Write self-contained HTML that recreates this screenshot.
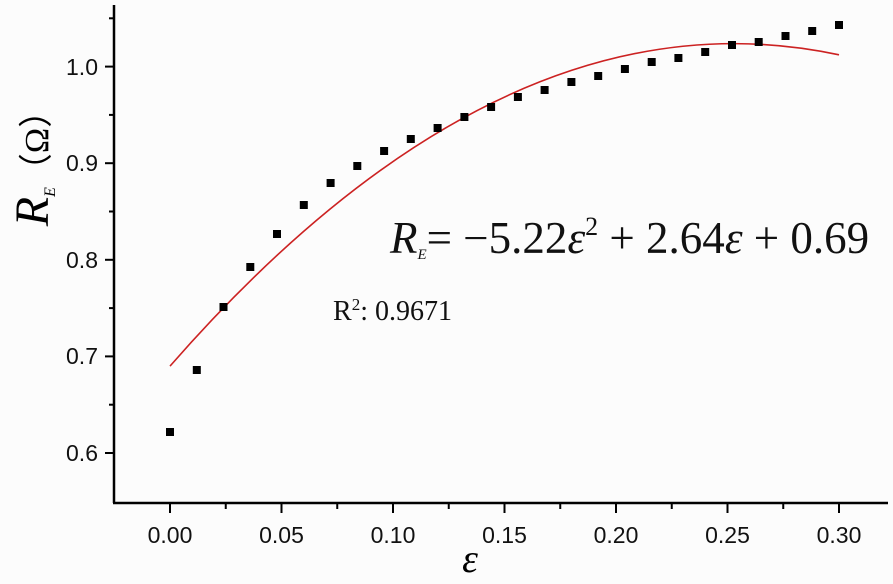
<!DOCTYPE html>
<html><head><meta charset="utf-8"><style>
html,body{margin:0;padding:0;background:#fcfcfc;}
svg{display:block;}
</style></head><body>
<svg width="893" height="584" viewBox="0 0 893 584" xmlns="http://www.w3.org/2000/svg">
<rect width="893" height="584" fill="#fcfcfc"/>
<g stroke="#000" stroke-width="2.5" fill="none">
<line x1="114" y1="5" x2="114" y2="503"/>
<line x1="113" y1="503" x2="888" y2="503"/>
</g>
<g stroke="#000" stroke-width="2">
<line x1="105" y1="66.6" x2="114" y2="66.6"/>
<line x1="105" y1="163.2" x2="114" y2="163.2"/>
<line x1="105" y1="259.8" x2="114" y2="259.8"/>
<line x1="105" y1="356.4" x2="114" y2="356.4"/>
<line x1="105" y1="453" x2="114" y2="453"/>
<line x1="109" y1="18.3" x2="114" y2="18.3"/>
<line x1="109" y1="114.9" x2="114" y2="114.9"/>
<line x1="109" y1="211.5" x2="114" y2="211.5"/>
<line x1="109" y1="308.1" x2="114" y2="308.1"/>
<line x1="109" y1="404.7" x2="114" y2="404.7"/>
<line x1="170" y1="503" x2="170" y2="513"/>
<line x1="281.5" y1="503" x2="281.5" y2="513"/>
<line x1="393" y1="503" x2="393" y2="513"/>
<line x1="504.5" y1="503" x2="504.5" y2="513"/>
<line x1="616" y1="503" x2="616" y2="513"/>
<line x1="727.5" y1="503" x2="727.5" y2="513"/>
<line x1="839" y1="503" x2="839" y2="513"/>
<line x1="225.75" y1="503" x2="225.75" y2="509"/>
<line x1="337.25" y1="503" x2="337.25" y2="509"/>
<line x1="448.75" y1="503" x2="448.75" y2="509"/>
<line x1="560.25" y1="503" x2="560.25" y2="509"/>
<line x1="671.75" y1="503" x2="671.75" y2="509"/>
<line x1="783.25" y1="503" x2="783.25" y2="509"/>
</g>
<g font-family="Liberation Sans, sans-serif" font-size="23" fill="#111" text-anchor="end">
<text x="98" y="75">1.0</text>
<text x="98" y="171">0.9</text>
<text x="98" y="268">0.8</text>
<text x="98" y="364">0.7</text>
<text x="98" y="461">0.6</text>
</g>
<g font-family="Liberation Sans, sans-serif" font-size="23" fill="#111" text-anchor="middle">
<text x="170" y="543">0.00</text>
<text x="281.5" y="543">0.05</text>
<text x="393" y="543">0.10</text>
<text x="504.5" y="543">0.15</text>
<text x="616" y="543">0.20</text>
<text x="727.5" y="543">0.25</text>
<text x="839" y="543">0.30</text>
</g>
<path fill="none" stroke="#cc2222" stroke-width="1.6" d="M170 366.1 Q504.5 -16.4 839 54.8"/>
<g fill="#000">
<rect x="166" y="428" width="8" height="8"/>
<rect x="192.8" y="366" width="8" height="8"/>
<rect x="219.5" y="303" width="8" height="8"/>
<rect x="246.3" y="263" width="8" height="8"/>
<rect x="273" y="230" width="8" height="8"/>
<rect x="299.8" y="201" width="8" height="8"/>
<rect x="326.6" y="179" width="8" height="8"/>
<rect x="353.3" y="162" width="8" height="8"/>
<rect x="380.1" y="147" width="8" height="8"/>
<rect x="406.8" y="135" width="8" height="8"/>
<rect x="433.6" y="124" width="8" height="8"/>
<rect x="460.4" y="113" width="8" height="8"/>
<rect x="487.1" y="103" width="8" height="8"/>
<rect x="513.9" y="93" width="8" height="8"/>
<rect x="540.6" y="86" width="8" height="8"/>
<rect x="567.4" y="78" width="8" height="8"/>
<rect x="594.2" y="72" width="8" height="8"/>
<rect x="620.9" y="65" width="8" height="8"/>
<rect x="647.7" y="58" width="8" height="8"/>
<rect x="674.4" y="54" width="8" height="8"/>
<rect x="701.2" y="48" width="8" height="8"/>
<rect x="728" y="41" width="8" height="8"/>
<rect x="754.7" y="38" width="8" height="8"/>
<rect x="781.5" y="32" width="8" height="8"/>
<rect x="808.2" y="27" width="8" height="8"/>
<rect x="835" y="21" width="8" height="8"/>
</g>
<text x="470" y="572" font-family="Liberation Serif, serif" font-style="italic" font-size="40" text-anchor="middle">ε</text>
<g transform="translate(48,160) rotate(-90)">
<text x="0" y="0" font-family="Liberation Serif, serif" font-size="48" text-anchor="middle"><tspan font-style="italic">R</tspan><tspan font-style="italic" font-size="16" dy="7">E</tspan><tspan dy="-7" font-size="34">（Ω）</tspan></text>
</g>
<text x="390" y="253" font-family="Liberation Serif, serif" font-size="45" fill="#111"><tspan font-style="italic">R</tspan><tspan font-style="italic" font-size="15" dy="6">E</tspan><tspan dy="-6">= −5.22</tspan><tspan font-style="italic">ε</tspan><tspan font-size="26" dy="-18">2</tspan><tspan dy="18"> + 2.64</tspan><tspan font-style="italic">ε</tspan><tspan> + 0.69</tspan></text>
<text x="333" y="320" font-family="Liberation Serif, serif" font-size="28" fill="#111">R<tspan font-size="17" dy="-10">2</tspan><tspan dy="10">: 0.9671</tspan></text>
</svg>
</body></html>
